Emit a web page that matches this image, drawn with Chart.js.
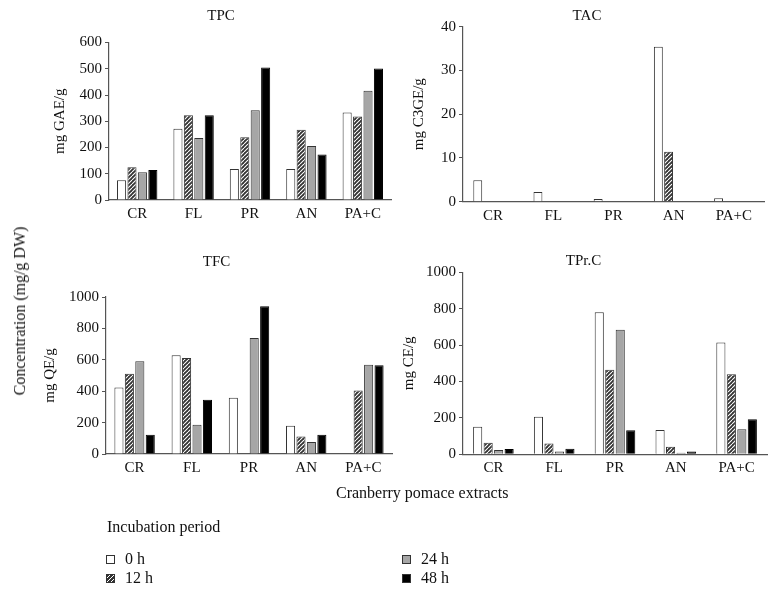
<!DOCTYPE html>
<html>
<head>
<meta charset="utf-8">
<script src="https://cdn.jsdelivr.net/npm/chart.js@4.4.0/dist/chart.umd.min.js"></script>
<style>
  html, body { margin: 0; padding: 0; background: #fff; }
  #page { position: relative; width: 778px; height: 593px; overflow: hidden;
          font-family: "Liberation Serif", "DejaVu Serif", serif; color: #111; }
  #page canvas { position: absolute; left: 0; top: 0; }
  .txt { position: absolute; font-size: 16px; white-space: nowrap; line-height: 18px; }
  .box { position: absolute; width: 7px; height: 7px; border: 1px solid #333; }
</style>
</head>
<body>
<div id="page">
  <canvas id="tpc" width="778" height="593"></canvas>
  <canvas id="tac" width="778" height="593"></canvas>
  <canvas id="tfc" width="778" height="593"></canvas>
  <canvas id="tprc" width="778" height="593"></canvas>

  <div class="txt" style="left:20px; top:311px; transform: translate(-50%,-50%) rotate(-90deg);">Concentration (mg/g DW)</div>
  <div class="txt" style="left:336px; top:484px;">Cranberry pomace extracts</div>
  <div class="txt" style="left:107px; top:518px;">Incubation period</div>
  <div id="legend"></div>
</div>
<script>
// extracts and incubation times
const categories = ['CR', 'FL', 'PR', 'AN', 'PA+C'];
const periods = ['0 h', '12 h', '24 h', '48 h'];

// TPC (mg GAE/g)
const tpc0h  = [75, 271, 118, 118, 333];
const tpc12h = [125, 323, 239, 268, 318];
const tpc24h = [106, 236, 342, 206, 416];
const tpc48h = [114, 323, 505, 173, 501];

// TAC (mg C3GE/g)
const tac0h  = [4.9, 2.2, 0.6, 35.4, 0.8];
const tac12h = [null, null, null, 11.4, null];
const tac24h = [null, null, null, null, null];
const tac48h = [null, null, null, null, null];

// TFC (mg QE/g)
const tfc0h  = [424, 629, 358, 180, null];
const tfc12h = [511, 612, null, 112, 405];
const tfc24h = [591, 186, 739, 76, 568];
const tfc48h = [123, 345, 941, 123, 566];

// TPr.C (mg CE/g)
const tprc0h  = [152, 207, 780, 134, 614];
const tprc12h = [64, 60, 465, 42, 440];
const tprc24h = [24, 15, 685, 9, 137];
const tprc48h = [29, 31, 132, 16, 192];

// axis ranges
const yMax  = [600, 40, 1000, 1000];
const yStep = [100, 10, 200, 200];

// hatched fill for 12 h
function hatch() {
  const p = document.createElement('canvas');
  p.width = p.height = 4;
  const c = p.getContext('2d');
  c.fillStyle = '#333333';
  c.fillRect(0, 0, 4, 4);
  c.strokeStyle = '#ffffff';
  c.lineWidth = 1.1;
  for (const o of [-4, 0, 4]) {
    c.beginPath(); c.moveTo(o, 4); c.lineTo(o + 4, 0); c.stroke();
  }
  return c.createPattern(p, 'repeat');
}
const fills = ['#ffffff', hatch(), '#a6a6a6', '#000000'];

const FONT = "'Liberation Serif', 'DejaVu Serif', serif";
const W = 778, H = 593;

// box: chart area left/right/top/bottom, yTitle centre x, title centre y
function panel(id, title, yTitle, series, idx, box) {
  const xHeight = 25;
  new Chart(document.getElementById(id), {
    type: 'bar',
    data: {
      labels: categories,
      datasets: series.map((d, i) => ({
        label: periods[i],
        data: d,
        backgroundColor: fills[i],
        borderColor: i === 3 ? '#000' : '#333',
        borderWidth: 1,
        borderSkipped: 'bottom',
        categoryPercentage: box.cat,
        barPercentage: 0.87
      }))
    },
    options: {
      responsive: false,
      animation: false,
      layout: {
        padding: {
          left: box.yt - 9,
          right: W - box.r,
          top: box.tt - 9,
          bottom: H - box.b - xHeight
        }
      },
      plugins: {
        legend: { display: false },
        tooltip: { enabled: false },
        title: {
          display: true,
          text: title,
          color: '#111',
          font: { family: FONT, size: 15, weight: 'normal' },
          padding: { top: 0, bottom: box.t - box.tt - 9 }
        }
      },
      scales: {
        x: {
          afterFit: s => { s.height = xHeight; },
          grid: { display: true, drawOnChartArea: false, drawTicks: false },
          border: { display: true, color: '#555', width: 1.2 },
          ticks: { color: '#111', padding: 5, font: { family: FONT, size: 15 } }
        },
        y: {
          min: 0,
          max: yMax[idx],
          afterFit: s => { s.width = box.l - (box.yt - 9); },
          grid: { display: true, drawOnChartArea: false, drawTicks: true, tickLength: 4, color: '#555' },
          border: { display: true, color: '#555', width: 1.2 },
          ticks: {
            stepSize: yStep[idx], color: '#111', padding: 3,
            font: { family: FONT, size: 15 },
            callback: v => String(v)
          },
          title: {
            display: true,
            text: yTitle,
            color: '#111',
            padding: { top: 0, bottom: 0 },
            font: { family: FONT, size: 15 }
          }
        }
      }
    }
  });
}

panel('tpc', 'TPC', 'mg GAE/g', [tpc0h, tpc12h, tpc24h, tpc48h], 0,
      { l: 109, r: 391, t: 42.5, b: 200, yt: 60, tt: 16, cat: 0.74 });
panel('tac', 'TAC', 'mg C3GE/g', [tac0h, tac12h, tac24h, tac48h], 1,
      { l: 463, r: 764, t: 26.7, b: 201.7, yt: 419, tt: 16, cat: 0.68 });
panel('tfc', 'TFC', 'mg QE/g', [tfc0h, tfc12h, tfc24h, tfc48h], 2,
      { l: 106, r: 392, t: 297, b: 454, yt: 50, tt: 262, cat: 0.73 });
panel('tprc', 'TPr.C', 'mg CE/g', [tprc0h, tprc12h, tprc24h, tprc48h], 3,
      { l: 463, r: 767, t: 272.3, b: 454.3, yt: 409, tt: 261, cat: 0.69 });

// shared legend
const legendPos = [[106, 555], [106, 574], [402, 555], [402, 574]];
const legendCss = ['#ffffff',
  'repeating-linear-gradient(-45deg, #333 0 1.5px, #fff 1.5px 2.8px)',
  '#a6a6a6', '#000000'];
const lg = document.getElementById('legend');
periods.forEach((p, i) => {
  const [x, y] = legendPos[i];
  const b = document.createElement('div');
  b.className = 'box';
  b.style.left = x + 'px';
  b.style.top = y + 'px';
  b.style.background = legendCss[i];
  lg.appendChild(b);
  const t = document.createElement('div');
  t.className = 'txt';
  t.textContent = p;
  t.style.left = (x + 19) + 'px';
  t.style.top = (y - 5) + 'px';
  lg.appendChild(t);
});
</script>
</body>
</html>
